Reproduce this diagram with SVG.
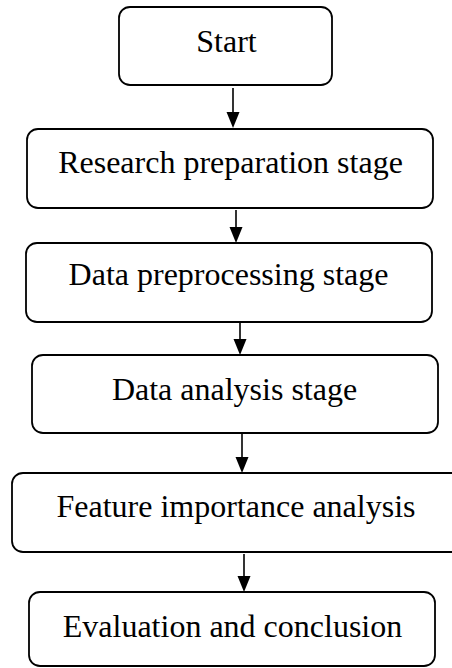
<svg xmlns="http://www.w3.org/2000/svg" width="452" height="668" viewBox="0 0 452 668">
  <style>
    .box { fill: #ffffff; stroke: #000000; stroke-width: 1.8; }
    .label { font-family: "Liberation Serif", "Times New Roman", serif; font-size: 32px; fill: #000000; text-anchor: middle; }
    .flow { stroke: #000000; stroke-width: 1.6; fill: none; marker-end: url(#arrow); }
  </style>
  <defs>
    <marker id="arrow" markerUnits="userSpaceOnUse" markerWidth="14" markerHeight="16" refX="7" refY="15" orient="auto-start-reverse" viewBox="0 0 14 16">
      <path d="M0.5,0 L13.5,0 L7,15 Z" fill="#000000" transform="rotate(-90 7 8) translate(0 0)"/>
    </marker>
  </defs>
  <rect width="452" height="668" fill="#ffffff"/>

  <g id="start">
    <rect class="box" x="119" y="7" width="213" height="78" rx="11"/>
    <text class="label" x="226.5" y="52">Start</text>
  </g>
  <g id="research-preparation">
    <rect class="box" x="27" y="129" width="406" height="79" rx="11"/>
    <text class="label" x="230.5" y="173">Research preparation stage</text>
  </g>
  <g id="data-preprocessing">
    <rect class="box" x="26" y="243" width="406" height="79" rx="11"/>
    <text class="label" x="228.5" y="285">Data preprocessing stage</text>
  </g>
  <g id="data-analysis">
    <rect class="box" x="32" y="355" width="406" height="78" rx="11"/>
    <text class="label" x="234.5" y="400">Data analysis stage</text>
  </g>
  <g id="feature-importance">
    <rect class="box" x="12" y="473" width="460" height="79" rx="11"/>
    <text class="label" x="236" y="517">Feature importance analysis</text>
  </g>
  <g id="evaluation">
    <rect class="box" x="29" y="592" width="406" height="74" rx="11"/>
    <text class="label" x="232.5" y="637">Evaluation and conclusion</text>
  </g>

  <g id="connectors">
    <path d="M233,88 L233,112" stroke="#000" stroke-width="1.6"/>
    <path d="M226.5,112 L239.5,112 L233,128 Z" fill="#000"/>
    <path d="M236,210 L236,227" stroke="#000" stroke-width="1.6"/>
    <path d="M229.5,227 L242.5,227 L236,243 Z" fill="#000"/>
    <path d="M240,323 L240,339" stroke="#000" stroke-width="1.6"/>
    <path d="M233.5,339 L246.5,339 L240,355 Z" fill="#000"/>
    <path d="M242,434 L242,457" stroke="#000" stroke-width="1.6"/>
    <path d="M235.5,457 L248.5,457 L242,473 Z" fill="#000"/>
    <path d="M244,554 L244,576" stroke="#000" stroke-width="1.6"/>
    <path d="M237.5,576 L250.5,576 L244,592 Z" fill="#000"/>
  </g>
</svg>
